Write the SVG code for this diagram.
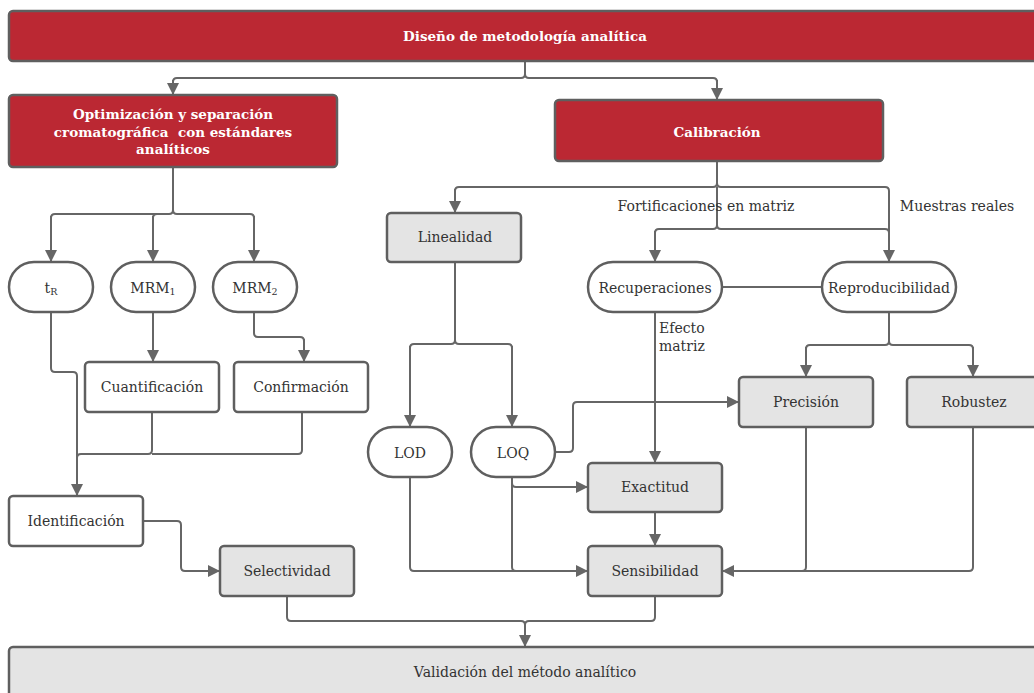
<svg xmlns="http://www.w3.org/2000/svg" width="1034" height="693" viewBox="0 0 1034 693">
<defs>
<style>
.red{fill:#BB2833;stroke:#5f5f5f;stroke-width:2.5}
.grey{fill:#E4E4E4;stroke:#5f5f5f;stroke-width:2.5}
.white{fill:#FFFFFF;stroke:#5f5f5f;stroke-width:2.5}
.t{font-family:"DejaVu Serif","Liberation Serif",serif;font-size:14px;fill:#333;text-anchor:middle;dominant-baseline:central}
.tb{font-family:"DejaVu Serif","Liberation Serif",serif;font-size:13.5px;font-weight:bold;fill:#fff;text-anchor:middle;dominant-baseline:central}
.lbl{font-family:"DejaVu Serif","Liberation Serif",serif;font-size:14px;fill:#333}
.c{fill:none;stroke:#666;stroke-width:2;stroke-linejoin:round}
.ca{fill:none;stroke:#666;stroke-width:2;stroke-linejoin:round;marker-end:url(#arr)}
</style>
<marker id="arr" markerUnits="userSpaceOnUse" markerWidth="12" markerHeight="12" viewBox="0 0 12 12" refX="12" refY="6" orient="auto">
<path d="M0,0 L12,6 L0,12 Z" fill="#666"/>
</marker>
</defs>
<rect width="1034" height="693" fill="#fff"/>

<g id="connectors">
<path class="c" d="M525,61 V74 Q525,78 521,78 H177 Q173,78 173,82"/>
<path class="ca" d="M173,80 V95"/>
<path class="c" d="M525,74 Q525,78 529,78 H713 Q717,78 717,82"/>
<path class="ca" d="M717,80 V100"/>
<path class="c" d="M173,167 V210 Q173,214 169,214 H55 Q51,214 51,218"/>
<path class="ca" d="M51,216 V262"/>
<path class="c" d="M173,210 Q173,214 177,214 H250 Q254,214 254,218"/>
<path class="ca" d="M254,216 V262"/>
<path class="c" d="M153,218 Q153,214 157,214"/>
<path class="ca" d="M153,216 V262"/>
<path class="ca" d="M153,312 V362"/>
<path class="c" d="M254,312 V333 Q254,337 258,337 H300 Q304,337 304,341"/>
<path class="ca" d="M304,339 V362"/>
<path class="c" d="M51,312 V368 Q51,372 55,372 H73 Q77,372 77,376 V458"/>
<path class="ca" d="M77,456 V496"/>
<path class="c" d="M152,412 V450 Q152,454 148,454 H81 Q77,454 77,458"/>
<path class="c" d="M302,412 V450 Q302,454 298,454 H152"/>
<path class="c" d="M143,521 H177 Q181,521 181,525 V567 Q181,571 185,571 H200"/>
<path class="ca" d="M198,571 H220"/>
<path class="c" d="M287,596 V617 Q287,621 291,621 H521 Q525,621 525,625"/>
<path class="c" d="M655,596 V617 Q655,621 651,621 H529 Q525,621 525,625"/>
<path class="ca" d="M525,623 V647"/>
<path class="c" d="M717,161 V183 Q717,187 713,187 H459 Q455,187 455,191"/>
<path class="ca" d="M455,189 V213"/>
<path class="c" d="M717,183 Q717,187 721,187 H885 Q889,187 889,191 V240"/>
<path class="ca" d="M889,238 V262"/>
<path class="c" d="M717,187 V225 Q717,229 713,229 H659 Q655,229 655,233"/>
<path class="ca" d="M655,231 V262"/>
<path class="c" d="M717,225 Q717,229 721,229 H885 Q889,229 889,233"/>
<path class="c" d="M722,287 H822"/>
<path class="ca" d="M655,312 V463"/>
<path class="c" d="M889,312 V341 Q889,345 885,345 H810 Q806,345 806,349"/>
<path class="ca" d="M806,347 V377"/>
<path class="c" d="M889,341 Q889,345 893,345 H969 Q973,345 973,349"/>
<path class="ca" d="M973,347 V377"/>
<path class="c" d="M455,262 V340 Q455,344 451,344 H414 Q410,344 410,348"/>
<path class="ca" d="M410,346 V427"/>
<path class="c" d="M455,340 Q455,344 459,344 H508 Q512,344 512,348"/>
<path class="ca" d="M512,346 V427"/>
<path class="c" d="M555,452 H569 Q573,452 573,448 V406 Q573,402 577,402 H720"/>
<path class="ca" d="M718,402 H739"/>
<path class="c" d="M512,477 V483 Q512,487 516,487 H570"/>
<path class="ca" d="M568,487 H588"/>
<path class="c" d="M512,477 V567 Q512,571 516,571"/>
<path class="c" d="M410,477 V567 Q410,571 414,571 H570"/>
<path class="ca" d="M568,571 H588"/>
<path class="ca" d="M655,512 V546"/>
<path class="c" d="M806,427 V567 Q806,571 802,571"/>
<path class="c" d="M973,427 V567 Q973,571 969,571 H742"/>
<path class="ca" d="M744,571 H722"/>
</g>

<g id="labels">
<text class="lbl" x="706" y="211" text-anchor="middle">Fortificaciones en matriz</text>
<text class="lbl" x="957" y="211" text-anchor="middle">Muestras reales</text>
<text class="lbl" x="659" y="333">Efecto</text>
<text class="lbl" x="659" y="351">matriz</text>
</g>

<g id="n-diseno"><rect class="red" x="9" y="11" width="1040" height="50" rx="4"/><text class="tb" x="525" y="36">Diseño de metodología analítica</text></g>
<g id="n-optim"><rect class="red" x="9" y="95" width="328" height="72" rx="4"/>
<text class="tb" x="173" y="114">Optimización y separación</text>
<text class="tb" x="173" y="132">cromatográfica&#160; con estándares</text>
<text class="tb" x="173" y="149">analíticos</text></g>
<g id="n-calib"><rect class="red" x="555" y="100" width="328" height="61" rx="4"/><text class="tb" x="717" y="132">Calibración</text></g>
<g id="n-tr"><rect class="white" x="9" y="262" width="84" height="50" rx="25"/><text class="t" x="51" y="288">t<tspan font-size="9.5" dy="3">R</tspan></text></g>
<g id="n-mrm1"><rect class="white" x="111" y="262" width="84" height="50" rx="25"/><text class="t" x="153" y="288">MRM<tspan font-size="9.5" dy="3">1</tspan></text></g>
<g id="n-mrm2"><rect class="white" x="213" y="262" width="84" height="50" rx="25"/><text class="t" x="255" y="288">MRM<tspan font-size="9.5" dy="3">2</tspan></text></g>
<g id="n-cuant"><rect class="white" x="85" y="362" width="134" height="50" rx="4"/><text class="t" x="152" y="387">Cuantificación</text></g>
<g id="n-conf"><rect class="white" x="234" y="362" width="134" height="50" rx="4"/><text class="t" x="301" y="387">Confirmación</text></g>
<g id="n-ident"><rect class="white" x="9" y="496" width="134" height="50" rx="4"/><text class="t" x="76" y="521">Identificación</text></g>
<g id="n-select"><rect class="grey" x="220" y="546" width="134" height="50" rx="4"/><text class="t" x="287" y="571">Selectividad</text></g>
<g id="n-lineal"><rect class="grey" x="387" y="213" width="134" height="49" rx="4"/><text class="t" x="455" y="237">Linealidad</text></g>
<g id="n-recup"><rect class="white" x="588" y="262" width="134" height="50" rx="25"/><text class="t" x="655" y="288">Recuperaciones</text></g>
<g id="n-repro"><rect class="white" x="822" y="262" width="134" height="50" rx="25"/><text class="t" x="889" y="288">Reproducibilidad</text></g>
<g id="n-lod"><rect class="white" x="368" y="427" width="84" height="50" rx="25"/><text class="t" x="410" y="453">LOD</text></g>
<g id="n-loq"><rect class="white" x="471" y="427" width="84" height="50" rx="25"/><text class="t" x="513" y="453">LOQ</text></g>
<g id="n-prec"><rect class="grey" x="739" y="377" width="134" height="50" rx="4"/><text class="t" x="806" y="402">Precisión</text></g>
<g id="n-robust"><rect class="grey" x="907" y="377" width="134" height="50" rx="4"/><text class="t" x="974" y="402">Robustez</text></g>
<g id="n-exact"><rect class="grey" x="588" y="463" width="134" height="49" rx="4"/><text class="t" x="655" y="487">Exactitud</text></g>
<g id="n-sens"><rect class="grey" x="588" y="546" width="134" height="50" rx="4"/><text class="t" x="655" y="571">Sensibilidad</text></g>
<g id="n-valid"><rect class="grey" x="9" y="647" width="1040" height="60" rx="4"/><text class="t" x="525" y="672">Validación del método analítico</text></g>
</svg>
